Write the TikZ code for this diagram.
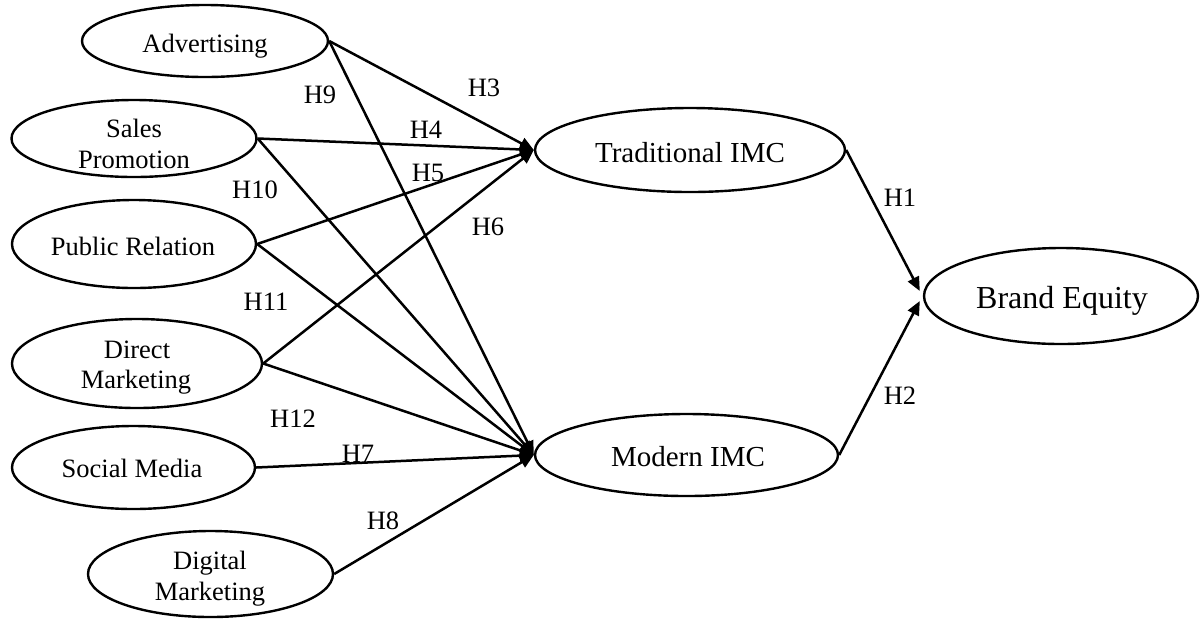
\documentclass[tikz,border=0pt]{standalone}
\usepackage{fontspec}
\setmainfont{Liberation Serif}
\usetikzlibrary{shapes.geometric,arrows.meta,calc}
\begin{document}
\begin{tikzpicture}[x=0.5pt,y=-0.5pt,
  oval/.style={draw,line width=1.2pt,ellipse,inner sep=0pt},
  lbl/.style={inner sep=0pt,anchor=base,font=\fontsize{13.25}{15.5}\selectfont},
  biglbl/.style={inner sep=0pt,anchor=base,font=\fontsize{14.5}{17}\selectfont},
  hugelbl/.style={inner sep=0pt,anchor=base,font=\fontsize{16}{19}\selectfont},
  hyp/.style={inner sep=0pt,font=\fontsize{13.25}{15.5}\selectfont},
  link/.style={line width=1.25pt,-{Triangle[length=7pt,width=6pt]}}
]
\useasboundingbox (0,0) rectangle (1200,618);

% ellipses
\node[oval,minimum width=123pt,minimum height=36pt]   (adv)   at (205,41)    {};
\node[oval,minimum width=122.5pt,minimum height=38.5pt] (sales) at (134,138.5) {};
\node[oval,minimum width=122pt,minimum height=44pt]   (pub)   at (134,244)   {};
\node[oval,minimum width=125pt,minimum height=44.5pt] (dir)   at (137,363.5) {};
\node[oval,minimum width=121.5pt,minimum height=41.5pt] (soc) at (133.5,467.5) {};
\node[oval,minimum width=122.5pt,minimum height=43pt] (dig)   at (210.5,574) {};
\node[oval,minimum width=155pt,minimum height=42pt]   (trad)  at (690,150)   {};
\node[oval,minimum width=151.5pt,minimum height=41pt] (mod)   at (686.5,455) {};
\node[oval,minimum width=137pt,minimum height=48pt]   (be)    at (1061,296)  {};

% texts
\node[lbl] (advt)   at (205,52)  {Advertising};
\node[lbl] (salest1) at (134,137) {Sales};
\node[lbl] (salest2) at (134,168) {Promotion};
\node[lbl] (pubt)   at (133,255) {Public Relation};
\node[lbl] (dirt1)  at (137,358) {Direct};
\node[lbl] (dirt2)  at (136,388) {Marketing};
\node[lbl] (soct)   at (132,477) {Social Media};
\node[lbl] (digt1)  at (210,569) {Digital};
\node[lbl] (digt2)  at (210,600) {Marketing};
\node[biglbl] (tradt) at (690,162) {Traditional IMC};
\node[biglbl] (modt)  at (688,466) {Modern IMC};
\node[hugelbl] (bet)  at (1062,308) {Brand Equity};

% connectors
\draw[link] (adv.east)   -- (trad.west);
\draw[link] (sales.east) -- (trad.west);
\draw[link] (pub.east)   -- (trad.west);
\draw[link] (dir.east)   -- (trad.west);
\draw[link] (adv.east)   -- (mod.west);
\draw[link] (sales.east) -- (mod.west);
\draw[link] (pub.east)   -- (mod.west);
\draw[link] (dir.east)   -- (mod.west);
\draw[link] (soc.east)   -- (mod.west);
\draw[link] (dig.east)   -- (mod.west);
\draw[link] (trad.east)  -- ($(be.west)+(-3,-5)$);
\draw[link] (mod.east)   -- ($(be.west)+(-3,5)$);

% hypothesis labels
\node[hyp] (h3)  at (484,88)  {H3};
\node[hyp] (h4)  at (426,130) {H4};
\node[hyp] (h5)  at (428,173) {H5};
\node[hyp] (h6)  at (488,227) {H6};
\node[hyp] (h9)  at (320,95)  {H9};
\node[hyp] (h10) at (255,190) {H10};
\node[hyp] (h11) at (266,302) {H11};
\node[hyp] (h12) at (293,419) {H12};
\node[hyp] (h7)  at (358,454) {H7};
\node[hyp] (h8)  at (383,521) {H8};
\node[hyp] (h1)  at (900,198) {H1};
\node[hyp] (h2)  at (900,396) {H2};
\end{tikzpicture}
\end{document}
